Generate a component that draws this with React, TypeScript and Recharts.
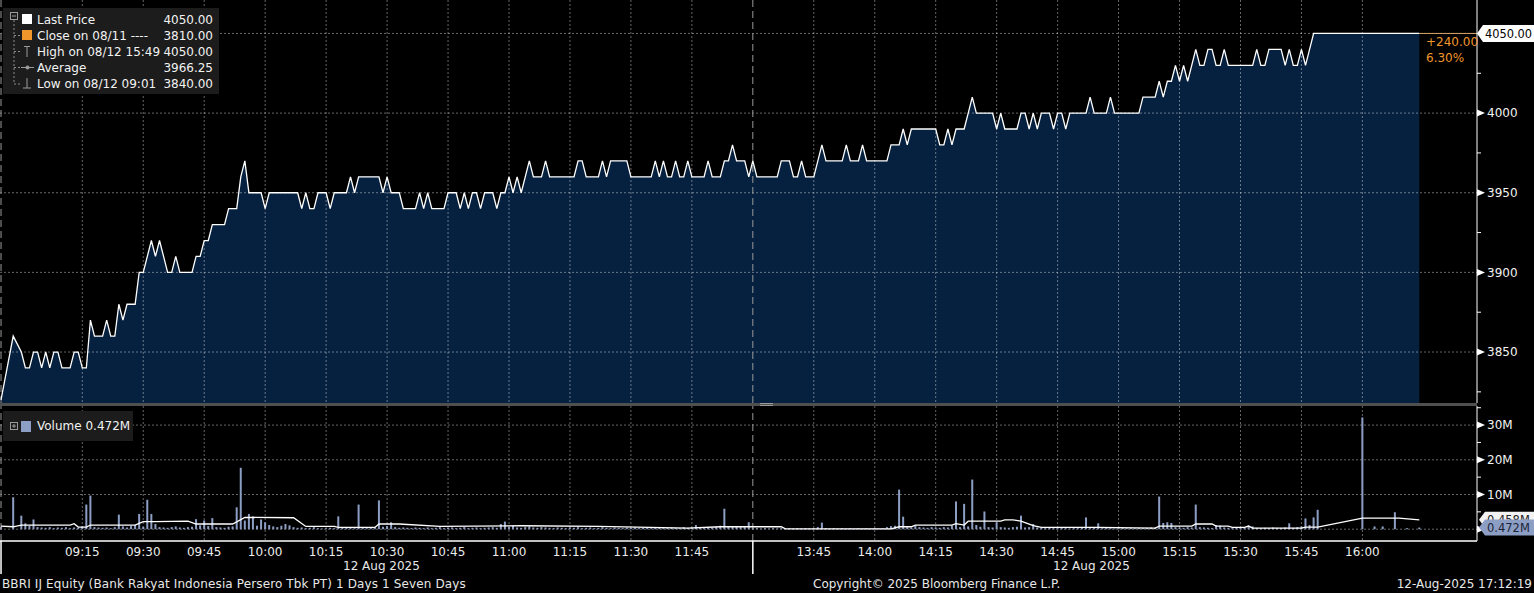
import React from "react";
import { Area, Bar, CartesianGrid, ComposedChart, Line, ReferenceLine, XAxis, YAxis } from "recharts";

// one slot per minute; the lunch break is cut out of the time axis
const amStart = "08:55";
const amEnd = "12:00";
const pmStart = "13:30";

// 08:55 .. 11:59
const priceAm = [
  3820, null, null, 3860, null,
  3850, 3840, 3840, 3850, 3850,
  3840, 3850, 3840, 3850, 3850,
  3840, 3840, 3840, 3850, 3850,
  3840, 3840, 3870, 3860, 3860,
  3860, 3870, 3860, 3860, 3880,
  3870, 3880, 3880, 3880, 3900,
  3900, 3910, 3920, 3910, 3920,
  3910, 3900, 3900, 3910, 3900,
  3900, 3900, 3900, 3910, 3910,
  3920, 3920, 3930, 3930, 3930,
  3930, 3940, 3940, 3940, 3960,
  3970, 3950, 3950, 3950, 3950,
  3940, 3950, 3950, 3950, 3950,
  3950, 3950, 3950, 3950, 3940,
  3950, 3940, 3940, 3950, 3950,
  3950, 3940, 3950, 3950, 3950,
  3950, 3960, 3950, 3960, 3960,
  3960, 3960, 3960, 3960, 3950,
  3960, 3950, 3950, 3950, 3940,
  3940, 3940, 3940, 3950, 3940,
  3950, 3940, 3940, 3940, 3940,
  3950, 3950, 3950, 3940, 3950,
  3940, 3950, 3950, 3940, 3950,
  3950, 3950, 3940, 3950, 3950,
  3960, 3950, 3960, 3950, 3960,
  3970, 3960, 3960, 3960, 3970,
  3960, 3960, 3960, 3960, 3960,
  3960, 3960, 3970, 3970, 3960,
  3960, 3960, 3960, 3970, 3960,
  3970, 3970, 3970, 3970, 3970,
  3960, 3960, 3960, 3960, 3960,
  3960, 3970, 3960, 3970, 3960,
  3960, 3970, 3960, 3960, 3970,
  3960, 3960, 3960, 3960, 3970,
  3960, 3960, 3960, 3970, 3970,
  3980, 3970, 3970, 3970, 3960,
];

// 13:30 .. 16:14
const pricePm = [
  3970, 3960, 3960, 3960, 3960,
  3960, 3960, 3970, 3970, 3970,
  3960, 3960, 3970, 3960, 3960,
  3960, 3970, 3980, 3970, 3970,
  3970, 3970, 3970, 3980, 3970,
  3970, 3970, 3980, 3970, 3970,
  3970, 3970, 3970, 3970, 3980,
  3980, 3980, 3990, 3980, 3990,
  3990, 3990, 3990, 3990, 3990,
  3990, 3980, 3980, 3990, 3980,
  3990, 3990, 3990, 4000, 4010,
  4000, 4000, 4000, 4000, 4000,
  3990, 4000, 3990, 3990, 3990,
  3990, 4000, 4000, 3990, 4000,
  3990, 4000, 4000, 4000, 3990,
  4000, 4000, 3990, 4000, 4000,
  4000, 4000, 4000, 4010, 4000,
  4000, 4000, 4000, 4010, 4000,
  4000, 4000, 4000, 4000, 4000,
  4000, 4010, 4010, 4010, 4010,
  4020, 4010, 4020, 4020, 4030,
  4020, 4030, 4020, 4030, 4040,
  4030, 4030, 4040, 4040, 4030,
  4030, 4040, 4030, 4030, 4030,
  4030, 4030, 4030, 4030, 4040,
  4030, 4030, 4040, 4040, 4040,
  4040, 4030, 4040, 4030, 4030,
  4040, 4030, 4040, 4050, 4050,
  4050, 4050, 4050, 4050, 4050,
  4050, 4050, 4050, 4050, 4050,
  4050, 4050, 4050, 4050, 4050,
  4050, 4050, 4050, 4050, 4050,
  4050, 4050, 4050, 4050, 4050,
];

// volume in millions of shares
const volumeAm = [
  0.6, null, null, 9.2, null,
  3.9, 1.7, 1.0, 2.8, 0.6,
  0.5, 0.4, 0.6, 0.3, 0.5,
  0.4, 0.6, 0.3, 0.5, 0.4,
  0.8, 7.1, 9.7, 0.6, 0.5,
  0.4, 0.5, 0.3, 0.6, 4.2,
  0.8, 0.5, 0.9, 1.2, 4.4,
  0.7, 8.5, 4.4, 1.5, 0.6,
  0.5, 0.4, 0.6, 0.8, 0.5,
  0.4, 0.6, 0.7, 2.9, 1.1,
  2.5, 0.9, 3.2, 0.6, 0.5,
  0.4, 0.7, 0.8, 6.3, 17.7,
  2.5, 4.4, 3.7, 1.0, 2.8,
  2.0, 1.2, 0.8, 0.6, 1.0,
  1.5, 1.1, 0.6, 0.4, 0.5,
  0.3, 0.4, 0.6, 0.3, 0.2,
  0.3, 0.4, 0.3, 3.7, 0.5,
  0.4, 0.6, 0.3, 7.1, 0.4,
  0.3, 0.5, 0.6, 8.3, 0.7,
  0.9, 2.0, 0.6, 0.4, 0.5,
  0.4, 0.3, 0.5, 0.4, 0.3,
  0.5, 0.3, 0.4, 0.6, 0.3,
  0.4, 0.5, 0.3, 0.4, 0.6,
  0.3, 0.4, 0.5, 0.3, 0.4,
  0.5, 0.6, 0.4, 1.5, 2.2,
  0.6, 1.0, 0.5, 0.4, 0.6,
  0.8, 0.5, 0.4, 0.6, 0.5,
  0.4, 0.3, 0.5, 0.4, 0.3,
  0.5, 0.4, 0.6, 0.3, 0.4,
  0.5, 0.3, 0.4, 0.6, 0.4,
  0.3, 0.5, 0.4, 0.3, 0.5,
  0.4, 0.6, 0.3, 0.4, 0.5,
  0.3, 0.4, 0.5, 0.3, 0.4,
  0.5, 0.4, 0.3, 0.6, 0.4,
  0.5, 1.2, 0.4, 0.3, 0.5,
  0.4, 0.6, 1.0, 5.9, 0.8,
  0.9, 0.7, 0.8, 0.6, 2.0,
];

const volumePm = [
  0.4, 0.3, 0.2, 0.3, 0.2,
  0.3, 0.2, 0.3, 0.2, 0.3,
  0.2, 0.3, 0.2, 0.3, 0.2,
  0.3, 0.6, 1.9, 0.3, 0.2,
  0.3, 0.2, 0.3, 0.2, 0.3,
  0.2, 0.3, 0.2, 0.3, 0.2,
  0.3, 0.2, 0.3, 0.6, 0.9,
  1.0, 11.4, 3.6, 0.6, 0.5,
  1.0, 0.6, 0.5, 0.4, 0.6,
  0.5, 0.4, 0.6, 0.5, 1.0,
  8.0, 0.6, 7.3, 0.8, 14.3,
  1.2, 0.7, 5.1, 0.6, 0.5,
  2.0, 0.6, 0.5, 0.4, 0.6,
  0.7, 3.9, 0.5, 0.6, 1.5,
  0.5, 0.4, 0.3, 0.4, 0.3,
  0.3, 0.4, 0.3, 0.2, 0.3,
  0.3, 0.4, 3.4, 0.3, 0.4,
  1.7, 0.3, 0.4, 0.3, 0.2,
  0.3, 0.4, 0.3, 0.4, 0.3,
  0.4, 0.3, 0.4, 0.5, 0.4,
  9.4, 1.8, 2.0, 1.8, 0.6,
  0.5, 0.4, 0.6, 0.5, 7.1,
  0.6, 0.5, 0.4, 0.3, 1.2,
  1.0, 0.5, 0.4, 0.3, 0.4,
  0.5, 0.6, 1.0, 0.8, 0.4,
  0.3, 0.4, 0.3, 0.5, 0.4,
  0.3, 0.5, 1.7, 0.4, 0.6,
  0.8, 3.1, 1.2, 3.4, 5.6,
  null, null, null, null, null,
  null, null, null, null, null,
  32.2, 0, 0, 0.8, 0,
  0.8, 0, 0, 4.9, 0,
  0, 0.3, 0, 0, 0.472,
];

// the white volume average line, read where it bends
const avgTimes = [
  "08:55", "08:58", "09:00", "09:12", "09:13", "09:14", "09:16", "09:17", "09:28", "09:30",
  "09:33", "09:41", "09:43", "09:52", "09:55", "10:07", "10:10", "10:17", "10:18", "10:27",
  "10:28", "10:33", "10:43", "11:03", "11:22", "11:44", "11:52", "11:59", "13:30", "13:37",
  "13:38", "14:04", "14:06", "14:09", "14:10", "14:19", "14:20", "14:22", "14:23", "14:31",
  "14:32", "14:34", "14:36", "14:39", "14:41", "14:55", "15:09", "15:10", "15:18", "15:19",
  "15:23", "15:24", "15:27", "15:28", "15:31", "15:32", "15:33", "15:45", "15:46", "15:49",
  "16:00", "16:09", "16:14",
];
const avgValues = [
  0.9, 0.7, 1.2, 1.2, 1.6, 0.6, 0.6, 1.2, 1.2, 2.2,
  2.2, 2.3, 1.5, 1.5, 3.4, 3.3, 0.8, 0.8, 0.5, 0.5,
  1.5, 1.5, 0.8, 1.0, 0.8, 0.3, 0.7, 0.7, 0.7, 0.7,
  0.1, 0.1, 0.7, 0.7, 1.2, 1.2, 1.6, 1.2, 2.3, 2.3,
  2.7, 2.7, 2.3, 1.0, 0.5, 0.5, 0.3, 0.9, 0.9, 1.5,
  1.5, 0.9, 0.9, 0.5, 0.5, 0.9, 0.3, 0.3, 0.6, 0.6,
  3.2, 3.2, 2.7,
];

const timeTicks = [
  "09:15", "09:30", "09:45", "10:00", "10:15", "10:30", "10:45", "11:00", "11:15", "11:30", "11:45",
  "13:45", "14:00", "14:15", "14:30", "14:45", "15:00", "15:15", "15:30", "15:45", "16:00",
];
const priceTicks = [3850, 3900, 3950, 4000, 4050];
const priceMinorTicks = [3825, 3875, 3925, 3975, 4025];
const volumeTicks = [0, 10, 20, 30];
const volumeMinorTicks = [5, 15, 25, 35];

const lastPrice = 4050;
const prevClose = 3810;
const dayHigh = 4050;
const dayLow = 3840;
const dayAverage = 3966.25;
const lastVolume = 0.472;
const avgFlagText = "0.458M";

const FONT = '"DejaVu Sans", Verdana, sans-serif';
const WIDTH = 1534;
const AXIS_W = 57;
const xDomain = [-0.25, 363.2];
const priceDomain = [3818, 4071];
const volumeDomain = [-3.4, 35.5];
const NAVY = "#06203f";
const ORANGE = "#f0962a";
const VOL = "#8d9ec4";

const toMin = (s: string) => {
  const [h, m] = s.split(":").map(Number);
  return h * 60 + m;
};
const amLength = toMin(amEnd) - toMin(amStart);
const slotOf = (s: string) =>
  toMin(s) >= toMin(pmStart) ? amLength + toMin(s) - toMin(pmStart) : toMin(s) - toMin(amStart);

type Row = { t: number; price: number | null; volume: number | null; avg: number | null };
const rows: Row[] = [
  ...priceAm.map((p, i) => ({ t: i, price: p, volume: volumeAm[i], avg: null })),
  ...pricePm.map((p, i) => ({ t: amLength + i, price: p, volume: volumePm[i], avg: null })),
];
avgTimes.forEach((s, i) => {
  const r = rows[slotOf(s)];
  if (r) r.avg = avgValues[i];
});

const lastSlot = rows[rows.length - 1].t;
const lastAvg = avgValues[avgValues.length - 1];
const tickSlots = timeTicks.map(slotOf);
const breakSlots = [slotOf(amStart), slotOf(pmStart)];
const slotLabels = new Map(timeTicks.map((s) => [slotOf(s), s] as [number, string]));

function PriceTick({ x, y, payload }: any) {
  const v = payload.value;
  if (v === lastPrice) {
    const chg = lastPrice - prevClose;
    return (
      <g>
        <path d={`M${x},${y} L${x + 6},${y - 8.5} L${x + 57},${y - 8.5} L${x + 57},${y + 8.5} L${x + 6},${y + 8.5} Z`} fill="#fff" />
        <text x={x + 8} y={y} dy="0.36em" fill="#000" fontSize={11.4} fontFamily={FONT}>
          {lastPrice.toFixed(2)}
        </text>
        <text x={x - 51} y={y + 8.5} dy="0.36em" fill={ORANGE} fontSize={12} fontFamily={FONT}>
          {"+" + chg.toFixed(2)}
        </text>
        <text x={x - 51} y={y + 24.5} dy="0.36em" fill={ORANGE} fontSize={12} fontFamily={FONT}>
          {((chg / prevClose) * 100).toFixed(2) + "%"}
        </text>
      </g>
    );
  }
  if (!priceTicks.includes(v)) return <line x1={x} x2={x + 4} y1={y} y2={y} stroke="#fff" />;
  return (
    <g>
      <path d={`M${x},${y - 3.5} L${x + 8},${y} L${x},${y + 3.5} Z`} fill="#fff" />
      <text x={x + 10} y={y} dy="0.36em" fill="#f2f2f2" fontSize={12} fontFamily={FONT}>
        {v}
      </text>
    </g>
  );
}

function Flag({ x, y, text, bg, color }: { x: number; y: number; text: string; bg: string; color: string }) {
  return (
    <g>
      <path d={`M${x + 2},${y} L${x + 8},${y - 8} L${x + 57},${y - 8} L${x + 57},${y + 8} L${x + 8},${y + 8} Z`} fill={bg} />
      <text x={x + 10} y={y} dy="0.36em" fill={color} fontSize={11.5} fontFamily={FONT}>
        {text}
      </text>
    </g>
  );
}

function VolumeTick({ x, y, payload }: any) {
  const v = payload.value;
  if (v === lastAvg) return <Flag x={x} y={y} text={avgFlagText} bg="#f2f2f2" color="#222" />;
  if (v === lastVolume) return <Flag x={x} y={y} text={lastVolume + "M"} bg={VOL} color="#1c2536" />;
  if (!volumeTicks.includes(v)) return <line x1={x} x2={x + 4} y1={y} y2={y} stroke="#fff" />;
  return (
    <g>
      <path d={`M${x},${y - 3.5} L${x + 8},${y} L${x},${y + 3.5} Z`} fill="#fff" />
      {v > 0 && (
        <text x={x + 10} y={y} dy="0.36em" fill="#f2f2f2" fontSize={12} fontFamily={FONT}>
          {v + "M"}
        </text>
      )}
    </g>
  );
}

function TimeTick({ x, y, payload }: any) {
  const label = slotLabels.get(payload.value);
  if (!label) return <line x1={x} x2={x} y1={y} y2={y + 33} stroke="#fff" strokeWidth={1.5} />;
  return (
    <text x={x} y={y + 11} dy="0.36em" textAnchor="middle" fill="#ececec" fontSize={12} fontFamily={FONT}>
      {label}
    </text>
  );
}

const gridProps = {
  stroke: "#ffffff",
  strokeOpacity: 0.4,
  strokeDasharray: "2 2",
};

function PriceLegend() {
  const items = [
    { label: "Last Price", value: lastPrice.toFixed(2) },
    { label: "Close on 08/11 ----", value: prevClose.toFixed(2) },
    { label: "High on 08/12 15:49", value: dayHigh.toFixed(2) },
    { label: "Average", value: dayAverage.toFixed(2) },
    { label: "Low on 08/12 09:01", value: dayLow.toFixed(2) },
  ];
  return (
    <div style={{ position: "absolute", left: 3, top: 8, width: 216, height: 86, background: "#1c1c1c" }}>
      <svg width={216} height={86} style={{ position: "absolute", left: 0, top: 0 }}>
        <rect x={7.5} y={4.5} width={7} height={7} fill="none" stroke="#9a9a9a" />
        <line x1={9} x2={13} y1={8} y2={8} stroke="#9a9a9a" />
        <line x1={11} x2={11} y1={12} y2={76} stroke="#8a8a8a" strokeDasharray="2 2" />
        {[27.5, 43.5, 59.5, 76].map((yy) => (
          <line key={yy} x1={11} x2={17} y1={yy} y2={yy} stroke="#8a8a8a" strokeDasharray="2 2" />
        ))}
        <rect x={19} y={6} width={10} height={10} fill="#ffffff" />
        <rect x={19} y={22} width={10} height={10} fill={ORANGE} />
        <line x1={21} x2={27} y1={38.5} y2={38.5} stroke="#9a9a9a" />
        <line x1={24} x2={24} y1={38.5} y2={49} stroke="#9a9a9a" />
        <line x1={18} x2={31} y1={59.5} y2={59.5} stroke="#9a9a9a" />
        <circle cx={24.5} cy={59.5} r={2} fill="#9a9a9a" />
        <line x1={24} x2={24} y1={70} y2={80} stroke="#9a9a9a" />
        <line x1={20} x2={28} y1={80} y2={80} stroke="#9a9a9a" />
      </svg>
      {items.map((it, i) => (
        <div
          key={it.label}
          style={{
            position: "absolute",
            left: 34,
            right: 6,
            top: 3.5 + i * 16.2,
            height: 16,
            lineHeight: "16px",
            display: "flex",
            justifyContent: "space-between",
            color: "#f2f2f2",
            fontSize: 12,
            fontFamily: FONT,
            whiteSpace: "pre",
          }}
        >
          <span>{it.label}</span>
          <span>{it.value}</span>
        </div>
      ))}
    </div>
  );
}

function VolumeLegend() {
  return (
    <div style={{ position: "absolute", left: 3, top: 411, width: 130, height: 30, background: "#1c1c1c" }}>
      <svg width={40} height={30} style={{ position: "absolute", left: 0, top: 0 }}>
        <rect x={7.5} y={11.5} width={7} height={7} fill="none" stroke="#9a9a9a" />
        <line x1={9} x2={13} y1={15} y2={15} stroke="#9a9a9a" />
        <line x1={11} x2={11} y1={13} y2={17} stroke="#9a9a9a" />
        <rect x={18} y={10} width={10} height={11} fill={VOL} />
      </svg>
      <div
        style={{
          position: "absolute",
          left: 34,
          top: 7,
          lineHeight: "16px",
          color: "#f2f2f2",
          fontSize: 12,
          fontFamily: FONT,
          whiteSpace: "pre",
        }}
      >
        {"Volume " + lastVolume + "M"}
      </div>
    </div>
  );
}

const textStyle: React.CSSProperties = {
  position: "absolute",
  color: "#e8e8e8",
  fontSize: 12,
  fontFamily: FONT,
  lineHeight: "14px",
  whiteSpace: "pre",
};

export default function App() {
  return (
    <div style={{ position: "absolute", left: 0, top: 0, width: WIDTH, height: 593, background: "#000", overflow: "hidden" }}>
      {/* price fill layer */}
      <div style={{ position: "absolute", left: 0, top: 0 }}>
        <ComposedChart width={WIDTH} height={403} data={rows} margin={{ top: 0, right: AXIS_W, bottom: 0, left: 0 }}>
          <XAxis type="number" dataKey="t" domain={xDomain} hide allowDataOverflow />
          <YAxis domain={priceDomain} hide allowDataOverflow />
          <Area
            type="linear"
            dataKey="price"
            stroke="none"
            fill={NAVY}
            fillOpacity={1}
            connectNulls
            isAnimationActive={false}
            dot={false}
            activeDot={false}
          />
        </ComposedChart>
      </div>
      {/* price grid, line and axis */}
      <div style={{ position: "absolute", left: 0, top: 0 }}>
        <ComposedChart width={WIDTH} height={403} data={rows} margin={{ top: 0, right: 0, bottom: 0, left: 0 }}>
          <CartesianGrid {...gridProps} horizontalValues={priceTicks} verticalValues={tickSlots} />
          <XAxis type="number" dataKey="t" domain={xDomain} ticks={tickSlots} hide allowDataOverflow />
          <YAxis
            orientation="right"
            width={AXIS_W}
            domain={priceDomain}
            ticks={[...priceMinorTicks, ...priceTicks]}
            interval={0}
            tick={<PriceTick />}
            tickLine={false}
            tickSize={0}
            tickMargin={0}
            axisLine={{ stroke: "#fff" }}
            allowDataOverflow
          />
          {breakSlots.map((s) => (
            <ReferenceLine key={s} x={s} stroke="#9a9a9a" strokeDasharray="7 4" />
          ))}
          <ReferenceLine
            segment={[
              { x: lastSlot, y: lastPrice },
              { x: xDomain[1], y: lastPrice },
            ]}
            stroke="#d6a262"
          />
          <Line
            type="linear"
            dataKey="price"
            stroke="#ffffff"
            strokeWidth={1.3}
            dot={false}
            activeDot={false}
            connectNulls
            isAnimationActive={false}
          />
        </ComposedChart>
      </div>

      {/* panel separator */}
      <div style={{ position: "absolute", left: 0, top: 403, width: WIDTH - AXIS_W, height: 3, background: "#4f4f4f" }} />
      <div style={{ position: "absolute", left: 760, top: 403, width: 13, height: 1, background: "#9a9a9a" }} />
      <div style={{ position: "absolute", left: 760, top: 405, width: 13, height: 1, background: "#9a9a9a" }} />

      {/* volume panel with the time axis */}
      <div style={{ position: "absolute", left: 0, top: 406 }}>
        <ComposedChart width={WIDTH} height={169} data={rows} margin={{ top: 0, right: 0, bottom: 0, left: 0 }}>
          <CartesianGrid {...gridProps} horizontalValues={volumeTicks} verticalValues={tickSlots} />
          <XAxis
            type="number"
            dataKey="t"
            domain={xDomain}
            ticks={[...breakSlots, ...tickSlots]}
            interval={0}
            tick={<TimeTick />}
            tickLine={false}
            tickSize={0}
            tickMargin={0}
            height={34}
            axisLine={{ stroke: "#fff", strokeWidth: 1.5 }}
            allowDataOverflow
          />
          <YAxis
            orientation="right"
            width={AXIS_W}
            domain={volumeDomain}
            ticks={[...volumeMinorTicks, ...volumeTicks, lastAvg, lastVolume]}
            interval={0}
            tick={<VolumeTick />}
            tickLine={false}
            tickSize={0}
            tickMargin={0}
            axisLine={{ stroke: "#fff" }}
            allowDataOverflow
          />
          {breakSlots.map((s) => (
            <ReferenceLine key={s} x={s} stroke="#9a9a9a" strokeDasharray="7 4" />
          ))}
          <Bar dataKey="volume" barSize={2} fill={VOL} isAnimationActive={false} />
          <Line
            type="linear"
            dataKey="avg"
            stroke="#ffffff"
            strokeWidth={1.3}
            dot={false}
            activeDot={false}
            connectNulls
            isAnimationActive={false}
          />
        </ComposedChart>
      </div>

      <PriceLegend />
      <VolumeLegend />

      <div style={{ ...textStyle, left: 343, top: 559 }}>12 Aug 2025</div>
      <div style={{ ...textStyle, left: 1053, top: 559 }}>12 Aug 2025</div>
      <div style={{ ...textStyle, left: 2, top: 577, letterSpacing: 0.12 }}>
        BBRI IJ Equity (Bank Rakyat Indonesia Persero Tbk PT) 1 Days 1 Seven Days
      </div>
      <div style={{ ...textStyle, left: 813, top: 577 }}>Copyright© 2025 Bloomberg Finance L.P.</div>
      <div style={{ ...textStyle, right: 2, top: 577 }}>12-Aug-2025 17:12:19</div>
    </div>
  );
}
